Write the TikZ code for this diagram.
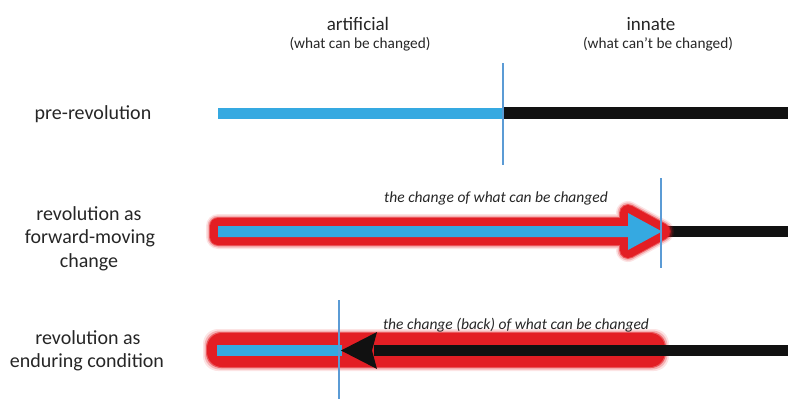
\documentclass[tikz,border=0pt]{standalone}
\usepackage{fontspec}
\setmainfont{Carlito}
\definecolor{barblue}{HTML}{35A9E1}
\definecolor{barblack}{HTML}{111111}
\definecolor{glowred}{HTML}{E31E24}
\definecolor{guide}{HTML}{5B9BD5}
\definecolor{txt}{HTML}{262626}
\tikzset{
  lbl/.style={inner sep=0pt, anchor=base, text=txt, font=\fontsize{20}{24}\selectfont},
  head/.style={inner sep=0pt, anchor=base, text=txt, font=\fontsize{19}{23}\selectfont},
  sub/.style={inner sep=0pt, anchor=base, text=txt, font=\fontsize{15.3}{18}\selectfont},
  note/.style={inner sep=0pt, anchor=base, text=txt, font=\fontsize{15.5}{18}\selectfont\itshape},
  guideline/.style={draw=guide, line width=1.3pt},
  bluebar/.style={draw=barblue, line width=11pt},
  blackbar/.style={draw=barblack, line width=11.5pt},
}
\begin{document}
\begin{tikzpicture}[x=1pt,y=-1pt]
\useasboundingbox (0,0) rectangle (788,399);
% headers
\node[head] (art) at (358,30) {artificial};
\node[sub] (artsub) at (360,48) {(what can be changed)};
\node[head] (inn) at (651,30) {innate};
\node[sub] (innsub) at (658,48) {(what can’t be changed)};
% row labels
\node[lbl] (pre) at (93,119) {pre-revolution};
\node[lbl] (r2a) at (89,220) {revolution as};
\node[lbl] (r2b) at (90,243.5) {forward-moving};
\node[lbl] (r2c) at (89,267) {change};
\node[lbl] (r3a) at (88,344) {revolution as};
\node[lbl] (r3b) at (87,367.5) {enduring condition};

% ---------- row 1 ----------
\coordinate (b1s) at (218,113);
\coordinate (b1m) at (503,113);
\coordinate (b1e) at (788,113);
\draw[bluebar] (b1s) -- (b1m);
\draw[blackbar] (b1m) -- (b1e);
\coordinate (g1t) at (503,63);
\coordinate (g1b) at (503,165);
\draw[guideline] (g1t) -- (g1b);

% ---------- row 2 ----------
\coordinate (b2m) at (660,231.5);
\coordinate (b2e) at (788,231.5);
\draw[blackbar] (b2m) -- (b2e);
\def\arrowpath{(218,226) -- (628,226) -- (628,213) -- (662,231.5) -- (628,250) -- (628,237) -- (218,237) -- cycle}
\foreach \w/\o in {24/0.12,21/0.25,18/0.6,16/1}{
  \draw[glowred, line width=\w pt, line join=round, opacity=\o] \arrowpath;
}
\fill[barblue] \arrowpath;
\node[note] (n2) at (496,202) {the change of what can be changed};
\coordinate (g2t) at (661,178);
\coordinate (g2b) at (661,268);
\draw[guideline] (g2t) -- (g2b);

% ---------- row 3 ----------
\foreach \w/\o in {8/0.12,5/0.25,2/0.6,0/1}{
  \fill[glowred, opacity=\o, rounded corners=15pt] (207-\w/2,333-\w/2) rectangle (665+\w/2,367+\w/2);
}
\coordinate (b3s) at (217,350.5);
\coordinate (b3m) at (342,350.5);
\draw[bluebar] (b3s) -- (b3m);
\coordinate (b3e) at (788,350.5);
\coordinate (b3h) at (374,350.5);
\draw[blackbar] (b3e) -- (b3h);
\fill[barblack] (341,350.5) -- (377,332) -- (372,350.5) -- (377,369) -- cycle;
\node[note] (n3) at (516,329) {the change (back) of what can be changed};
\coordinate (g3t) at (339,300);
\coordinate (g3b) at (339,399);
\draw[guideline] (g3t) -- (g3b);
\end{tikzpicture}
\end{document}
